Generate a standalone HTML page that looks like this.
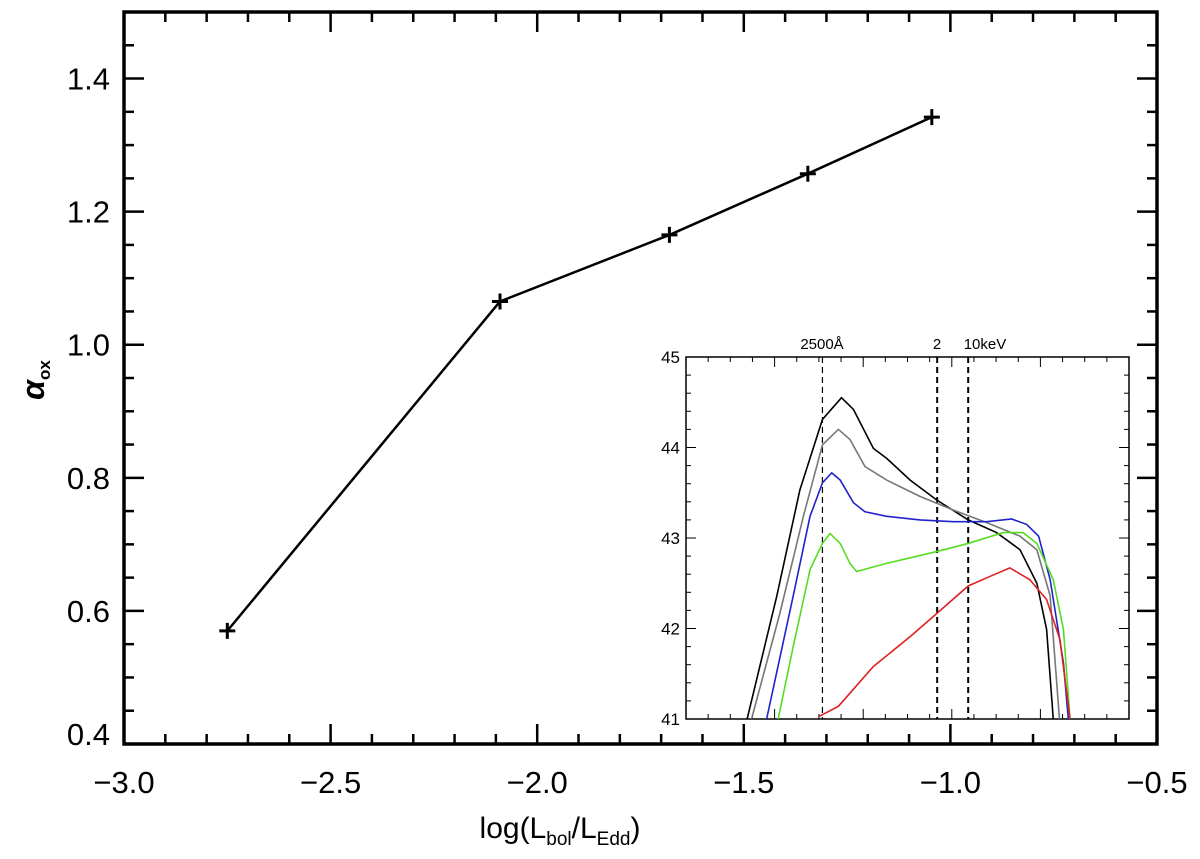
<!DOCTYPE html>
<html><head><meta charset="utf-8"><style>
html,body{margin:0;padding:0;background:#fff;}
svg text{font-family:"Liberation Sans",sans-serif;}
</style></head><body>
<svg id="chart" width="1200" height="854" viewBox="0 0 1200 854" xmlns="http://www.w3.org/2000/svg">
<g id="main"></g><g id="inset"></g>
</svg>
<script>
const xVals=[-2.75,-2.09,-1.68,-1.345,-1.045];
const yVals=[0.57,1.065,1.165,1.257,1.342];
const xTicks=[-3.0,-2.5,-2.0,-1.5,-1.0,-0.5];
const xTickLabels=["\u22123.0","\u22122.5","\u22122.0","\u22121.5","\u22121.0","\u22120.5"];
const yTicks=[0.4,0.6,0.8,1.0,1.2,1.4];
const yTickLabels=["0.4","0.6","0.8","1.0","1.2","1.4"];
// inset (x in relative units 0-100, y = log L)
const blackX=[13.8,20.5,25.7,30.8,35.1,37.8,42.3,45.3,50.6,56.6,63.7,70.1,75.4,79.2,81.4,82.9];
const blackY=[41,42.36,43.53,44.31,44.55,44.42,43.99,43.88,43.64,43.42,43.2,43.06,42.87,42.5,41.99,41];
const grayX=[14.8,21.2,26.5,30.8,34.4,37.0,40.4,45.3,52.8,60.3,67.9,75.4,79.2,82.2,84.3];
const grayY=[41,42.17,43.24,44.03,44.2,44.09,43.79,43.64,43.46,43.31,43.17,43.02,42.87,42.36,41];
const blueX=[18.2,24.2,28.0,30.8,32.9,34.8,37.8,40.4,45.3,52.8,60.3,67.9,73.5,76.9,79.6,82.2,85.2,86.3];
const blueY=[41,42.36,43.24,43.61,43.72,43.64,43.39,43.29,43.24,43.2,43.18,43.18,43.21,43.15,43.02,42.54,41.62,41];
const greenX=[20.8,24.2,28.0,30.8,32.5,34.8,37.0,38.5,45.3,56.6,63.7,71.6,76.1,79.2,82.9,85.2,86.7];
const greenY=[41,41.8,42.65,42.94,43.05,42.94,42.72,42.63,42.72,42.85,42.94,43.06,43.06,42.94,42.54,41.99,41];
const redX=[30.1,34.4,42.3,50.6,56.7,63.7,67.9,73.1,77.6,81.4,84.4,86.7];
const redY=[41.03,41.14,41.58,41.91,42.17,42.47,42.56,42.67,42.54,42.32,41.88,41];
const insetYTicks=[41,42,43,44,45];
const vlineX=[30.8,56.7,63.7];

const NS="http://www.w3.org/2000/svg";
function mk(tag,attrs,parent,text){const e=document.createElementNS(NS,tag);for(const k in attrs)e.setAttribute(k,attrs[k]);if(text!==undefined)e.textContent=text;parent.appendChild(e);return e;}
const L=124,R=1157,T=12,B=744;
const sx=v=>L+(v-(-3.0))/2.5*(R-L);
const sy=v=>B-(v-0.4)/1.1*(B-T);
const g=document.getElementById('main');
let fr=mk('rect',{x:L,y:T,width:R-L,height:B-T,fill:'none',stroke:'#000','stroke-width':3.5},g);

for(let i=0;i<=25;i++){const v=-3+i*0.1;const x=sx(v);const len=(i%5===0)?20:10;
 mk('line',{x1:x,y1:B,x2:x,y2:B-len,stroke:'#000','stroke-width':2.5},g);
 mk('line',{x1:x,y1:T,x2:x,y2:T+len,stroke:'#000','stroke-width':2.5},g);}
for(let i=0;i<=22;i++){const v=0.4+i*0.05;const y=sy(v);const len=(i%4===0)?20:10;
 mk('line',{x1:L,y1:y,x2:L+len,y2:y,stroke:'#000','stroke-width':2.5},g);
 mk('line',{x1:R,y1:y,x2:R-len,y2:y,stroke:'#000','stroke-width':2.5},g);}
xTicks.forEach((v,i)=>{const t=mk('text',{x:sx(v),y:793,'font-size':31,'text-anchor':'middle'},g,xTickLabels[i]);
 });
yTicks.forEach((v,i)=>{const by=(i===0)?sy(v)+1:sy(v)+11;const t=mk('text',{x:110,y:by,'font-size':31,'text-anchor':'end'},g,yTickLabels[i]);
 });
let xt=mk('text',{x:560,y:838,'font-size':30,'text-anchor':'middle'},g);
xt.innerHTML='log(L<tspan font-size="19" dy="7">bol</tspan><tspan dy="-7">/L</tspan><tspan font-size="19" dy="7">Edd</tspan><tspan dy="-7">)</tspan>';

let yt=mk('text',{x:0,y:0,'font-size':32,'font-style':'italic','font-weight':'bold','text-anchor':'middle',transform:'translate(44,380) rotate(-90)'},g);
yt.innerHTML='α<tspan font-size="17" font-style="normal" dy="6">ox</tspan>';

let ln=mk('polyline',{points:xVals.map((v,i)=>sx(v)+','+sy(yVals[i])).join(' '),fill:'none',stroke:'#000','stroke-width':2.5},g);

xVals.forEach((v,i)=>{const x=sx(v),y=sy(yVals[i]);const p=mk('path',{d:`M${x-8},${y}H${x+8}M${x},${y-8}V${y+8}`,stroke:'#000','stroke-width':3},g);
 });

// inset
const gi=document.getElementById('inset');
const IL=686,IR=1129,IT=357,IB=719;
const ix=u=>IL+u/100*(IR-IL);
const iy=v=>IB-(v-41)/4*(IB-IT);
let ib=mk('rect',{x:IL,y:IT,width:IR-IL,height:IB-IT,fill:'#fff',stroke:'#000','stroke-width':1.5},gi);

for(let i=0;i<=20;i++){const x=ix(i*5);const len=(i%4===0)?10:5;
 mk('line',{x1:x,y1:IB,x2:x,y2:IB-len,stroke:'#000','stroke-width':1},gi);
 mk('line',{x1:x,y1:IT,x2:x,y2:IT+len,stroke:'#000','stroke-width':1},gi);}
for(let i=0;i<=20;i++){const y=iy(41+i*0.2);const len=(i%5===0)?10:5;
 mk('line',{x1:IL,y1:y,x2:IL+len,y2:y,stroke:'#000','stroke-width':1},gi);
 mk('line',{x1:IR,y1:y,x2:IR-len,y2:y,stroke:'#000','stroke-width':1},gi);}
insetYTicks.forEach(v=>{const t=mk('text',{x:680,y:iy(v)+6,'font-size':17,'text-anchor':'end'},gi,String(v));
 });
vlineX.forEach((u,i)=>{const l=mk('line',{x1:ix(u),y1:IT,x2:ix(u),y2:IB,stroke:'#000','stroke-width':i===0?1.2:2,'stroke-dasharray':'6,4'},gi);
 });
[['2500Å',822],['2',937],['10keV',985]].forEach(([s,x])=>{const t=mk('text',{x:x,y:349,'font-size':15,'text-anchor':'middle'},gi,s);
 });
[[blackX,blackY,'#000','black'],[grayX,grayY,'#777','gray'],[blueX,blueY,'#2222cc','blue'],[greenX,greenY,'#55dd22','green'],[redX,redY,'#dd2222','red']].forEach(([X,Y,c,n])=>{
 const p=mk('polyline',{points:X.map((u,i)=>ix(u)+','+iy(Y[i])).join(' '),fill:'none',stroke:c,'stroke-width':1.6},gi);
 });
</script>
</body></html>
